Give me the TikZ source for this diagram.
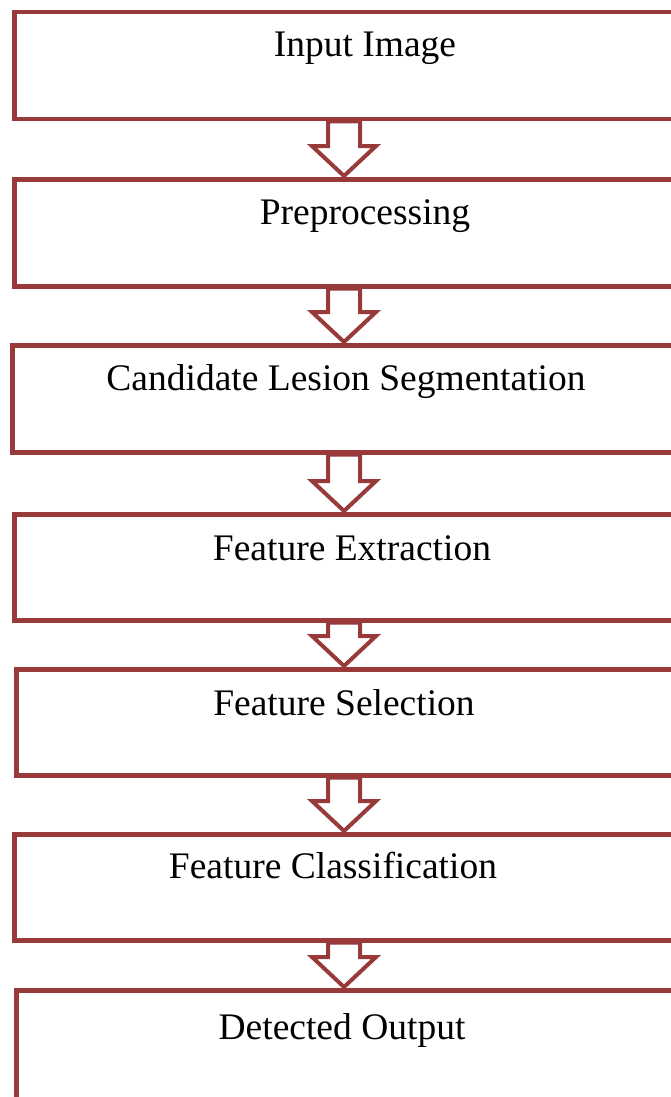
\documentclass[tikz,border=0pt]{standalone}
\usepackage{fontspec}
\setmainfont{Liberation Serif}
\usetikzlibrary{calc}
\definecolor{brd}{HTML}{983A3A}
\tikzset{
  box/.style={draw=brd, line width=4.5pt, anchor=north west, minimum width=720pt, inner sep=0pt},
  lbl/.style={font=\fontsize{37.5}{42}\selectfont, inner sep=0pt, anchor=base},
  arr/.style={draw=brd, line width=4pt, fill=white, line join=miter}
}
\newcommand\blockarr[2]{%
  \draw[arr] ($(#1.south -| ax)+(-16,0)$) -- ($(#1.south -| ax)+(16,0)$)
    -- ($(#2.north -| ax)+(16,-31)$) -- ($(#2.north -| ax)+(32,-31)$)
    -- ($(#2.north -| ax)+(0,-1)$)
    -- ($(#2.north -| ax)+(-32,-31)$) -- ($(#2.north -| ax)+(-16,-31)$) -- cycle;}
\begin{document}
\begin{tikzpicture}[x=1pt,y=-1pt]
\useasboundingbox (0,0) rectangle (671,1097);
\clip (0,0) rectangle (671,1097);
\coordinate (ax) at (344,0);
\node[box, minimum height=107pt] (b1) at (12,10) {};
\node[box, minimum height=107pt] (b2) at (12,177) {};
\node[box, minimum height=107pt] (b3) at (10,343) {};
\node[box, minimum height=106pt] (b4) at (12,512) {};
\node[box, minimum height=106pt] (b5) at (14,667) {};
\node[box, minimum height=106pt] (b6) at (12,832) {};
\node[box, minimum height=130pt] (b7) at (14,988) {};
\node[lbl] (t1) at (365,57) {Input Image};
\node[lbl] (t2) at (365,224) {Preprocessing};
\node[lbl] (t3) at (346,390) {Candidate Lesion Segmentation};
\node[lbl] (t4) at (352,560) {Feature Extraction};
\node[lbl] (t5) at (344,715) {Feature Selection};
\node[lbl] (t6) at (333,878) {Feature Classification};
\node[lbl] (t7) at (342,1039) {Detected Output};
\blockarr{b1}{b2}
\blockarr{b2}{b3}
\blockarr{b3}{b4}
\blockarr{b4}{b5}
\blockarr{b5}{b6}
\blockarr{b6}{b7}
\end{tikzpicture}
\end{document}
